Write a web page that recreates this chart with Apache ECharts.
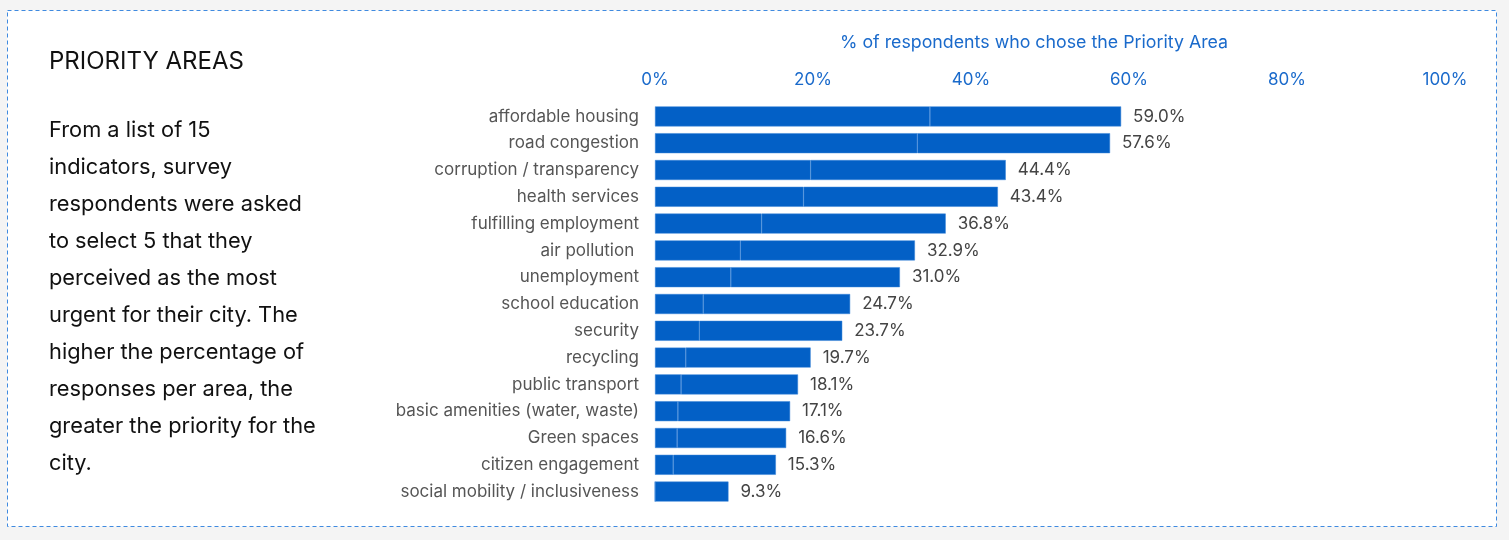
<!DOCTYPE html>
<html>
<head>
<meta charset="utf-8">
<script src="https://cdn.jsdelivr.net/npm/echarts@6/dist/echarts.min.js"></script>
<style>
  html, body { margin: 0; padding: 0; background: #f4f4f4; }
  #chart { width: 1509px; height: 540px; }
</style>
</head>
<body>
<div id="chart"></div>
<script>
// categories, top to bottom
let areas = [
  'affordable housing', 'road congestion', 'corruption / transparency', 'health services',
  'fulfilling employment', 'air pollution ', 'unemployment', 'school education', 'security',
  'recycling', 'public transport', 'basic amenities (water, waste)', 'Green spaces',
  'citizen engagement', 'social mobility / inclusiveness'
];
// % of respondents who chose the area
let share = [59.0, 57.6, 44.4, 43.4, 36.8, 32.9, 31.0, 24.7, 23.7, 19.7, 18.1, 17.1, 16.6, 15.3, 9.3];
// position of the faint divider inside each bar
let split = [34.8, 33.2, 19.7, 18.8, 13.5, 10.8, 9.6, 6.1, 5.6, 3.9, 3.3, 2.9, 2.8, 2.3, 0];
let xTicks = [0, 20, 40, 60, 80, 100];

let blurb = [
  'From a list of 15',
  'indicators, survey',
  'respondents were asked',
  'to select 5 that they',
  'perceived as the most',
  'urgent for their city. The',
  'higher the percentage of',
  'responses per area, the',
  'greater the priority for the',
  'city.'
];

let rest = share.map((v, i) => +(v - split[i]).toFixed(1));

let barColor = '#0360c6';
let blue = '#1a6acb';
let font = 'Inter';

let option = {
  animation: false,
  graphic: [
    {
      type: 'rect',
      z: -10,
      shape: { x: 7.5, y: 10.5, width: 1489, height: 516 },
      style: { fill: '#fff', stroke: '#3f8ae0', lineWidth: 1, lineDash: [4, 3] }
    },
    {
      type: 'text',
      left: 49,
      top: 50,
      style: { text: 'PRIORITY AREAS', fill: '#111', font: '24px Inter' }
    },
    {
      type: 'text',
      left: 49,
      top: 112,
      style: {
        text: blurb.join('\n'),
        fill: '#111',
        font: '21.8px Inter',
        lineHeight: 37
      }
    }
  ],
  grid: {
    left: 655,
    right: 64,
    top: 103,
    bottom: 35
  },
  xAxis: {
    type: 'value',
    position: 'top',
    min: 0,
    max: 100,
    interval: 20,
    name: '% of respondents who chose the Priority Area',
    nameLocation: 'middle',
    nameGap: 51,
    nameTextStyle: { color: blue, fontSize: 17.8, fontFamily: font, padding: [0, 32, 0, 0] },
    axisLine: { show: false },
    axisTick: { show: false },
    splitLine: { show: false },
    axisLabel: {
      color: blue,
      fontSize: 17,
      fontFamily: font,
      margin: 15,
      formatter: v => xTicks.includes(v) ? v + '%' : ''
    }
  },
  yAxis: {
    type: 'category',
    inverse: true,
    data: areas,
    axisLine: { show: false },
    axisTick: { show: false },
    axisLabel: { color: '#555', fontSize: 17, fontFamily: font, margin: 16 }
  },
  series: [
    {
      type: 'bar',
      stack: 'all',
      data: split,
      barWidth: 20,
      itemStyle: { color: barColor, borderColor: '#3a84d8', borderWidth: 0.5 }
    },
    {
      type: 'bar',
      stack: 'all',
      data: rest,
      barWidth: 20,
      itemStyle: { color: barColor, borderColor: '#3a84d8', borderWidth: 0.5 },
      label: {
        show: true,
        position: 'right',
        distance: 12,
        color: '#444',
        fontSize: 17,
        fontFamily: font,
        formatter: p => share[p.dataIndex].toFixed(1) + '%'
      }
    }
  ]
};

let chart = echarts.init(document.getElementById('chart'));
chart.setOption(option);
</script>
</body>
</html>
